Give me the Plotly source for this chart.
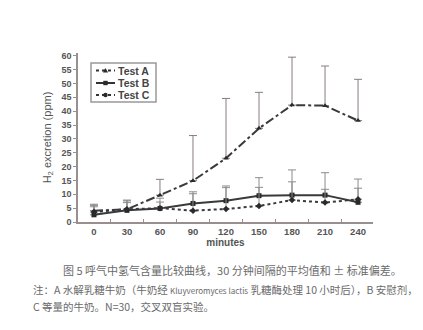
import plotly.graph_objects as go

# Breath hydrogen over time, mean with + standard deviation
minutes = [0, 30, 60, 90, 120, 150, 180, 210, 240]

test_a = [4.1, 4.6, 9.7, 14.9, 23.0, 33.8, 42.2, 42.0, 36.6]
test_a_upper = [6.4, 7.9, 15.4, 31.2, 44.6, 46.8, 59.5, 56.3, 51.5]

test_b = [2.6, 4.2, 4.9, 6.7, 7.7, 9.5, 9.7, 9.7, 7.1]
test_b_upper = [5.5, 7.0, 8.6, 10.9, 13.0, 16.0, 18.8, 17.8, 15.5]

test_c = [3.6, 4.6, 5.0, 4.1, 4.7, 5.8, 7.9, 7.0, 8.2]
test_c_upper = [6.0, 7.6, 7.2, 10.2, 12.4, 12.5, 14.5, 11.8, 12.2]

series_names = ["Test A", "Test B", "Test C"]

x_ticks = [0, 30, 60, 90, 120, 150, 180, 210, 240]
x_minor = [15, 45, 75, 105, 135, 165, 195, 225]
y_ticks = list(range(0, 61, 5))

latin = "<span style='font-size:8px'>Kluyveromyces lactis</span>"
caption_lines = [
    "图 5 呼气中氢气含量比较曲线，30 分钟间隔的平均值和 ± 标准偏差。",
    f"注：A 水解乳糖牛奶（牛奶经 {latin} 乳糖酶处理 10 小时后），B 安慰剂，",
    "C 等量的牛奶。N=30，交叉双盲实验。",
]
caption_sizes = [11, 10.5, 10.5]

# plot area in pixels (used only to place the compact legend box)
PL, PR, PT, PB = 78, 373, 53, 222
W, H = 423, 330


def px(x):
    return (x - PL) / (PR - PL)


def py(y):
    return (PB - y) / (PB - PT)


def plus_err(mean, upper):
    return [u - m for m, u in zip(mean, upper)]


fig = go.Figure()

styles = [
    ("dashdot", "triangle-up", "#8a7c7c"),
    ("solid", "square", "#8c8c8c"),
    ("dot", "diamond", "#8c8c8c"),
]
data = [(test_a, test_a_upper), (test_b, test_b_upper), (test_c, test_c_upper)]

for name, (vals, upper), (dash, symbol, ecol) in zip(series_names, data, styles):
    fig.add_trace(go.Scatter(
        x=minutes, y=vals, name=name, mode="lines+markers",
        line=dict(color="#3a3a3a", width=2, dash=dash),
        marker=dict(symbol=symbol, size=5, color="#2a2a2a"),
        error_y=dict(type="data", symmetric=False, array=plus_err(vals, upper),
                     arrayminus=[0] * len(vals), color=ecol, thickness=1, width=4),
        showlegend=False,
    ))

fig.update_layout(
    width=W, height=H,
    margin=dict(l=PL, r=W - PR, t=PT, b=H - PB),
    paper_bgcolor="white", plot_bgcolor="white",
    font=dict(family="Liberation Sans, Arial, sans-serif", color="#555555"),
)

# compact legend box
shapes = [dict(type="rect", xref="paper", yref="paper",
               x0=px(91), x1=px(156), y0=py(102), y1=py(63),
               line=dict(color="#999999", width=1.5), fillcolor="white")]
row_y = [70.5, 83, 95]
key_dash = ["3px,3px", "solid", "3px,3px"]
for name, ry, kd, (dash, symbol, ecol) in zip(series_names, row_y, key_dash, styles):
    shapes.append(dict(type="line", xref="paper", yref="paper",
                       x0=px(96), x1=px(115), y0=py(ry), y1=py(ry),
                       line=dict(color="#333333", width=2, dash=kd)))
    cx, cy = 105.5, ry
    if symbol == "triangle-up":
        path = (f"M {px(cx - 2.5)},{py(cy + 2)} L {px(cx + 2.5)},{py(cy + 2)} "
                f"L {px(cx)},{py(cy - 2.5)} Z")
        shapes.append(dict(type="path", xref="paper", yref="paper", path=path,
                           fillcolor="#2a2a2a", line=dict(width=0)))
    elif symbol == "square":
        shapes.append(dict(type="rect", xref="paper", yref="paper",
                           x0=px(cx - 2.2), x1=px(cx + 2.2), y0=py(cy + 2.2), y1=py(cy - 2.2),
                           fillcolor="#2a2a2a", line=dict(width=0)))
    else:
        shapes.append(dict(type="circle", xref="paper", yref="paper",
                           x0=px(cx - 2.2), x1=px(cx + 2.2), y0=py(cy + 2.2), y1=py(cy - 2.2),
                           fillcolor="#2a2a2a", line=dict(width=0)))
    fig.add_annotation(text=f"<b>{name}</b>", xref="paper", yref="paper",
                       x=px(116), y=py(ry), xanchor="left", yanchor="middle",
                       showarrow=False,
                       font=dict(size=10.5, color="#444444",
                                 family="Liberation Sans, Arial, sans-serif"))
fig.update_layout(shapes=shapes)

fig.update_xaxes(
    range=[-14.5, 253.6], tickvals=x_ticks,
    ticktext=[f"<b>{v}</b>" for v in x_ticks],
    tickfont=dict(size=9.5, color="#555555"),
    showgrid=False, zeroline=False, showline=True, linecolor="#9a8f8f", linewidth=1.5,
    ticks="", minor=dict(tickvals=x_minor, ticks="inside", ticklen=3, tickcolor="#9a8f8f"),
    title=dict(text="<b>minutes</b>", font=dict(size=10, color="#555555"), standoff=2),
)

fig.update_yaxes(
    range=[0, 61], tickvals=y_ticks,
    ticktext=[f"<b>{v}</b>" for v in y_ticks],
    tickfont=dict(size=9, color="#555555"),
    showgrid=False, zeroline=False, showline=True, linecolor="#9a8f8f", linewidth=1.5,
    ticks="outside", ticklen=3, tickcolor="#9a8f8f",
    title=dict(text="H<sub>2</sub> excretion (ppm)", font=dict(size=11, color="#555555"), standoff=8),
)

caption_y = [270, 289, 306]
caption_x = [61, 31, 31]
for text, yy, xx, fs in zip(caption_lines, caption_y, caption_x, caption_sizes):
    fig.add_annotation(
        text=text, xref="paper", yref="paper",
        x=px(xx), y=py(yy), xanchor="left", yanchor="middle",
        showarrow=False,
        font=dict(size=fs, color="#6a6a6a", family="Noto Sans CJK SC"),
    )

fig.write_html("out.html")
